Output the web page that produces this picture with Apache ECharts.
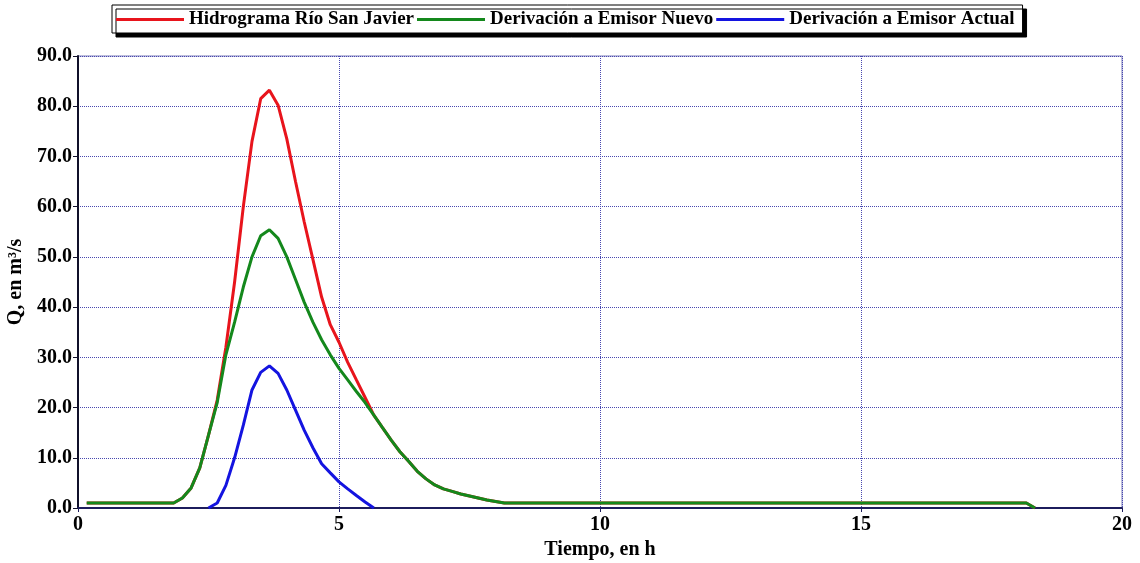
<!DOCTYPE html>
<html>
<head>
<meta charset="utf-8">
<script src="https://cdn.jsdelivr.net/npm/echarts@6/dist/echarts.min.js"></script>
<style>
  html, body { margin: 0; padding: 0; background: #fff; }
  #chart { width: 1140px; height: 563px; }
</style>
</head>
<body>
<div id="chart"></div>
<script>
// Time (h) of each hydrograph ordinate
const tiempo = [0.167, 1.833, 2.0, 2.167, 2.333, 2.5, 2.667, 2.833, 3.0, 3.167, 3.333, 3.5, 3.667, 3.833,
  4.0, 4.167, 4.333, 4.5, 4.667, 4.833, 5.0, 5.167, 5.333, 5.5, 5.667, 5.833, 6.0, 6.167, 6.333, 6.5,
  6.667, 6.833, 7.0, 7.167, 7.333, 7.5, 7.667, 7.833, 8.0, 8.167, 18.167, 18.333];

// Flow (m3/s) – Río San Javier hydrograph
const hidrograma = [1.0, 1.0, 2.0, 4.0, 8.0, 14.5, 21.5, 32.0, 45.0, 60.0, 73.0, 81.5, 83.2, 80.2,
  73.5, 65.0, 57.0, 49.5, 42.0, 36.5, 33.0, 29.0, 25.5, 22.0, 18.5, 16.0, 13.5, 11.2, 9.3, 7.3,
  5.8, 4.6, 3.8, 3.3, 2.8, 2.4, 2.0, 1.6, 1.3, 1.0, 1.0, 0.0];

// Flow (m3/s) diverted to the new outfall
const emisorNuevo = [1.0, 1.0, 2.0, 4.0, 8.0, 14.5, 21.0, 30.5, 37.0, 44.0, 50.0, 54.2, 55.4, 53.7,
  50.0, 45.5, 41.0, 37.0, 33.5, 30.5, 27.8, 25.5, 23.2, 21.0, 18.5, 16.0, 13.5, 11.2, 9.3, 7.3,
  5.8, 4.6, 3.8, 3.3, 2.8, 2.4, 2.0, 1.6, 1.3, 1.0, 1.0, 0.0];

// Flow (m3/s) diverted to the current outfall
const emisorActual = [null, null, null, null, null, 0.0, 1.0, 4.5, 10.0, 16.5, 23.5, 27.0, 28.3, 26.8,
  23.5, 19.5, 15.5, 12.0, 8.8, 7.0, 5.2, 3.8, 2.5, 1.2, 0.0, null, null, null, null, null,
  null, null, null, null, null, null, null, null, null, null, null, null];

const seriesNames = ['Hidrograma Río San Javier', 'Derivación a Emisor Nuevo', 'Derivación a Emisor Actual'];
const xTicks = [0, 5, 10, 15, 20];

function pairs(values) {
  const out = [];
  tiempo.forEach((t, i) => { if (values[i] !== null) out.push([t, values[i]]); });
  return out;
}

const FONT = '"Liberation Serif", "Times New Roman", serif';
const chart = echarts.init(document.getElementById('chart'), null, { renderer: 'canvas' });

const lineSeries = (name, values, color, z) => ({
  name, type: 'line', data: pairs(values), showSymbol: false, symbol: 'none',
  lineStyle: { color, width: 3 }, itemStyle: { color }, z, animation: false
});

chart.setOption({
  animation: false,
  backgroundColor: '#ffffff',
  legend: {
    left: 112, top: 5,
    padding: [5, 8, 4, 4],
    itemWidth: 68, itemHeight: 3, itemGap: 3,
    icon: 'rect',
    backgroundColor: '#ffffff',
    borderColor: '#000000', borderWidth: 1,
    shadowColor: '#000000', shadowBlur: 0, shadowOffsetX: 4, shadowOffsetY: 4,
    textStyle: { fontFamily: FONT, fontWeight: 'bold', fontSize: 19, color: '#000', padding: [0, 0, 0, 0] },
    data: seriesNames
  },
  grid: {
    left: 78, right: 18, top: 56, bottom: 55,
    outerBoundsMode: 'none',
    show: true, borderColor: '#7a7ab8', borderWidth: 1, backgroundColor: '#fff'
  },
  xAxis: {
    type: 'value', min: xTicks[0], max: xTicks[xTicks.length - 1], interval: 5,
    name: 'Tiempo, en h', nameLocation: 'middle', nameGap: 32,
    nameTextStyle: { fontFamily: FONT, fontWeight: 'bold', fontSize: 20, color: '#000' },
    axisLine: { show: true, lineStyle: { color: '#1c1c5c', width: 2 } },
    axisTick: { show: true, length: 4, lineStyle: { color: '#1c1c5c' } },
    axisLabel: { fontFamily: FONT, fontWeight: 'bold', fontSize: 20, color: '#000', margin: 7 },
    splitLine: { show: true, lineStyle: { color: '#4848b0', width: 1, type: [1, 1] } }
  },
  yAxis: {
    type: 'value', min: 0, max: 90, interval: 10,
    name: 'Q, en m³/s', nameLocation: 'middle', nameGap: 48,
    nameTextStyle: { fontFamily: FONT, fontWeight: 'bold', fontSize: 20, color: '#000' },
    axisLine: { show: true, lineStyle: { color: '#10102a', width: 2 } },
    axisTick: { show: true, length: 5, lineStyle: { color: '#10102a' } },
    axisLabel: { fontFamily: FONT, fontWeight: 'bold', fontSize: 20, color: '#000', margin: 6,
      formatter: v => v.toFixed(1) },
    splitLine: { show: true, lineStyle: { color: '#4848b0', width: 1, type: [1, 1] } }
  },
  series: [
    lineSeries(seriesNames[0], hidrograma, '#e8141c', 2),
    lineSeries(seriesNames[1], emisorNuevo, '#14881c', 3),
    lineSeries(seriesNames[2], emisorActual, '#1414e0', 4)
  ]
});
</script>
</body>
</html>
